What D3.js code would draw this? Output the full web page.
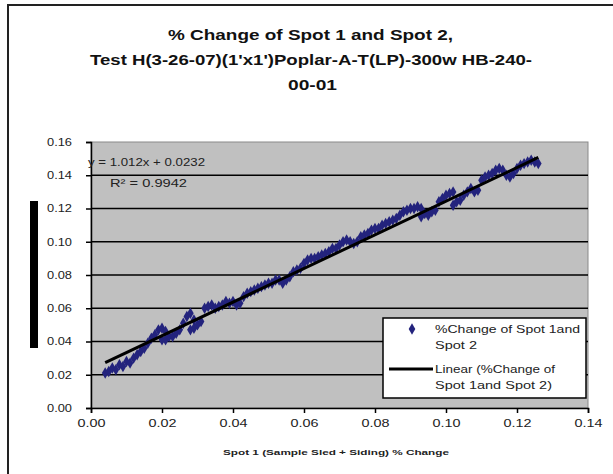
<!DOCTYPE html>
<html><head><meta charset="utf-8">
<script src="https://cdn.jsdelivr.net/npm/d3@7"></script>
<style>
html,body{margin:0;padding:0;background:#fff;}
svg{display:block;font-family:"Liberation Sans",Arial,sans-serif;}
</style></head>
<body><svg id="c" width="613" height="474"></svg>
<script>
const titleLines = ["% Change of Spot 1 and Spot 2,", "Test H(3-26-07)(1'x1')Poplar-A-T(LP)-300w HB-240-", "00-01"];
const xAxisTitle = "Spot 1 (Sample Sled + Siding) % Change";
const xTicks = [0, 0.02, 0.04, 0.06, 0.08, 0.10, 0.12, 0.14];
const yTicks = [0, 0.02, 0.04, 0.06, 0.08, 0.10, 0.12, 0.14, 0.16];
const seriesName = "%Change of Spot 1and Spot 2";
const trendName = "Linear (%Change of Spot 1and Spot 2)";
const trendSlope = 1.012;
const trendIntercept = 0.0232;
const equationText = "y = 1.012x + 0.0232";
const r2Text = "R\u00B2 = 0.9942";
const spotX = [0.004,0.005,0.006,0.007,0.008,0.009,0.010,0.011,0.012,0.013,0.014,0.015,0.016,0.017,0.018,0.019,0.020,0.020,0.021,0.021,0.022,0.023,0.024,0.025,0.026,0.027,0.028,0.028,0.029,0.029,0.030,0.031,0.032,0.033,0.034,0.035,0.036,0.037,0.038,0.039,0.040,0.041,0.042,0.043,0.044,0.045,0.046,0.047,0.048,0.049,0.050,0.051,0.052,0.053,0.054,0.055,0.056,0.057,0.058,0.059,0.060,0.061,0.062,0.063,0.064,0.065,0.066,0.067,0.068,0.069,0.070,0.071,0.072,0.073,0.074,0.075,0.076,0.077,0.078,0.079,0.080,0.081,0.082,0.083,0.084,0.085,0.086,0.087,0.088,0.089,0.090,0.091,0.092,0.093,0.093,0.094,0.095,0.096,0.097,0.098,0.099,0.100,0.101,0.102,0.102,0.103,0.104,0.105,0.106,0.107,0.108,0.109,0.110,0.111,0.112,0.113,0.114,0.115,0.116,0.117,0.118,0.119,0.120,0.121,0.122,0.123,0.124,0.125,0.126];
const spotY = [0.021,0.022,0.024,0.023,0.026,0.025,0.028,0.027,0.030,0.032,0.034,0.036,0.039,0.042,0.044,0.047,0.048,0.041,0.046,0.041,0.043,0.043,0.045,0.047,0.051,0.055,0.057,0.047,0.053,0.048,0.050,0.052,0.060,0.061,0.062,0.060,0.061,0.062,0.064,0.063,0.064,0.062,0.063,0.067,0.069,0.070,0.071,0.072,0.073,0.074,0.075,0.075,0.077,0.077,0.075,0.077,0.079,0.082,0.083,0.084,0.087,0.089,0.090,0.090,0.091,0.092,0.093,0.094,0.096,0.096,0.098,0.100,0.101,0.100,0.099,0.100,0.103,0.104,0.105,0.107,0.108,0.108,0.110,0.111,0.112,0.113,0.114,0.116,0.118,0.119,0.120,0.120,0.121,0.120,0.115,0.117,0.116,0.118,0.119,0.124,0.126,0.128,0.129,0.130,0.122,0.124,0.125,0.128,0.130,0.132,0.130,0.131,0.137,0.139,0.140,0.141,0.143,0.144,0.143,0.140,0.139,0.141,0.144,0.146,0.147,0.148,0.149,0.148,0.147];

const svg = d3.select("#c");
const M = {l:91, r:588, t:142, b:408};
const x = d3.scaleLinear().domain([0,0.14]).range([M.l, M.r]);
const y = d3.scaleLinear().domain([0,0.16]).range([M.b, M.t]);
const navy = "#23237d";

function fitText(sel, w){ sel.attr("textLength", w).attr("lengthAdjust","spacingAndGlyphs"); return sel; }

// outer frame
svg.append("rect").attr("x",8).attr("y",5).attr("width",640).attr("height",500)
  .attr("fill","none").attr("stroke","#222").attr("stroke-width",2);

// title
const ty = [35, 60, 85], tx = [168, 90, 288], tw = [285, 442, 49];
titleLines.forEach((t,i)=>{
  fitText(svg.append("text").attr("x",tx[i]).attr("y",ty[i]).attr("dy","0.35em")
    .attr("font-size",15).attr("font-weight","bold")
    .attr("fill","#111").text(t), tw[i]);
});

// y title redaction bar
svg.append("rect").attr("x",30).attr("y",201).attr("width",8).attr("height",147).attr("fill","#000");

// plot area
svg.append("rect").attr("x",M.l).attr("y",M.t).attr("width",M.r-M.l).attr("height",M.b-M.t)
  .attr("fill","#c0c0c0").attr("stroke","#8a8a8a").attr("stroke-width",1);

// gridlines
svg.append("g").selectAll("line").data(yTicks.filter(d=>d>0 && d<0.16)).join("line")
  .attr("x1",M.l).attr("x2",M.r).attr("y1",d=>y(d)).attr("y2",d=>y(d))
  .attr("stroke","#000").attr("stroke-width",1.5);

// axes
const fmt = d3.format(".2f");
const gx = svg.append("g").attr("transform",`translate(0,${M.b})`)
  .call(d3.axisBottom(x).tickValues(xTicks).tickFormat(fmt).tickSize(5).tickPadding(7));
const gy = svg.append("g").attr("transform",`translate(${M.l},0)`)
  .call(d3.axisLeft(y).tickValues(yTicks).tickFormat(fmt).tickSize(5).tickPadding(13));
[gx,gy].forEach(g=>{
  g.select(".domain").attr("stroke","#000").attr("stroke-width",1.5);
  g.selectAll(".tick line").attr("stroke","#000").attr("stroke-width",1.5);
  g.selectAll("text").attr("font-size",10.5).attr("fill","#222")
    .attr("font-family","'Liberation Sans',Arial,sans-serif");
});
gx.selectAll(".tick text").attr("textLength",28).attr("lengthAdjust","spacingAndGlyphs");
gy.selectAll(".tick text").attr("text-anchor","start").attr("dx",-26)
  .attr("textLength",25).attr("lengthAdjust","spacingAndGlyphs");

// x title
fitText(svg.append("text").attr("x",223).attr("y",452).attr("dy","0.35em")
  .attr("font-size",7.5).attr("font-weight","bold").attr("fill","#222")
  .text(xAxisTitle), 226);

// data points
const pts = spotX.map((v,i)=>[v, spotY[i]]);
const sym = d3.symbol().type(d3.symbolDiamond).size(38);
svg.append("g").selectAll("path").data(pts).join("path")
  .attr("d",sym).attr("transform",d=>`translate(${x(d[0])},${y(d[1])})`)
  .attr("fill",navy);

// trendline
const [xmin,xmax] = d3.extent(spotX);
svg.append("line").attr("x1",x(xmin)).attr("y1",y(trendSlope*xmin+trendIntercept))
  .attr("x2",x(xmax)).attr("y2",y(trendSlope*xmax+trendIntercept))
  .attr("stroke","#000").attr("stroke-width",3);

// equation
fitText(svg.append("text").attr("x",88).attr("y",162).attr("dy","0.35em").attr("font-size",10.5)
  .attr("fill","#222").text(equationText), 117);
fitText(svg.append("text").attr("x",110).attr("y",183).attr("dy","0.35em").attr("font-size",10.5)
  .attr("fill","#222").text(r2Text), 77);

// legend
const lg = svg.append("g");
lg.append("rect").attr("x",383).attr("y",318).attr("width",203).attr("height",80)
  .attr("fill","#fff").attr("stroke","#000").attr("stroke-width",1.5);
lg.append("path").attr("d",sym).attr("transform","translate(412,329)").attr("fill",navy);
lg.append("line").attr("x1",389).attr("x2",433).attr("y1",369).attr("y2",369)
  .attr("stroke","#000").attr("stroke-width",3);
const legLines = [[seriesName.slice(0,20), 329, 145],[seriesName.slice(21), 345, 42],
                  [trendName.slice(0,18), 369, 120],[trendName.slice(19), 385, 117]];
legLines.forEach(([t,yy,w])=>{
  fitText(lg.append("text").attr("x",435).attr("y",yy).attr("dy","0.35em").attr("font-size",10.5)
    .attr("fill","#222").text(t), w);
});
</script></body></html>
